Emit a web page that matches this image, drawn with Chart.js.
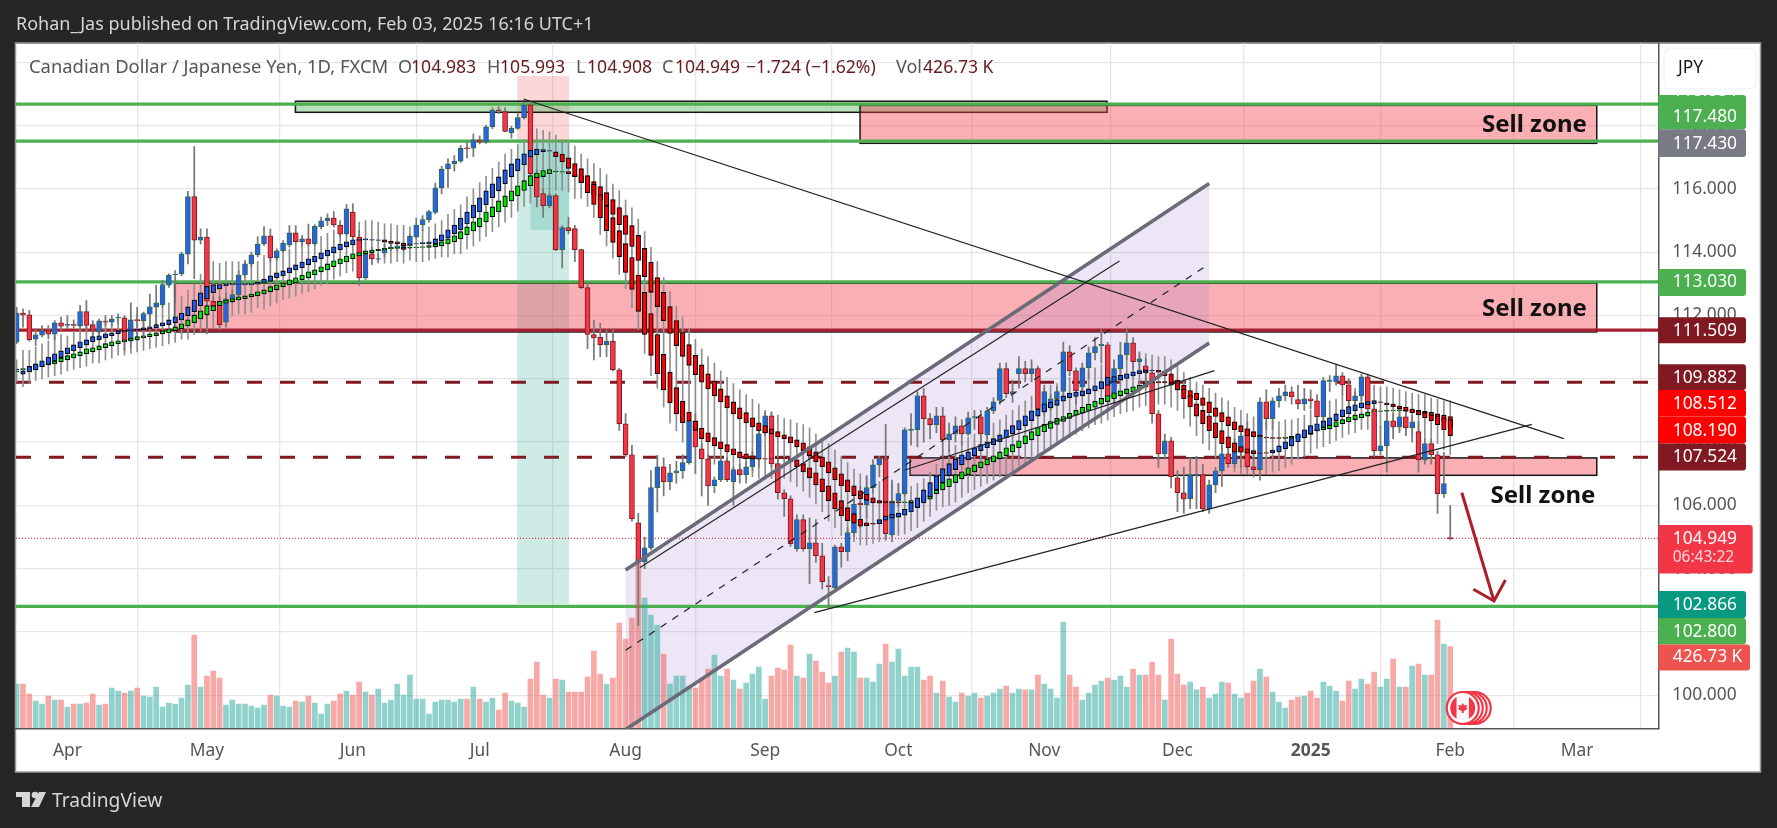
<!DOCTYPE html>
<html><head><meta charset="utf-8"><title>CAD/JPY</title>
<style>html,body{margin:0;padding:0;background:#262626;overflow:hidden}canvas{display:block}</style>
<script src="https://cdn.jsdelivr.net/npm/chart.js@4/dist/chart.umd.min.js"></script>
</head><body><canvas id="c" width="1777" height="828"></canvas>
<script>
// bars are numbered from 1 Apr 2024 = 0 (trading days); first visible bar is -8
const firstBar = -8;
const monthTicks = [0,22,45,65,88,110,131,154,175,196,218,238];
const monthLabels = ['Apr','May','Jun','Jul','Aug','Sep','Oct','Nov','Dec','2025','Feb','Mar'];
const priceTicks = [100,102,104,106,108,110,112,114,116,118,120];

const mainOpen = [
111.16,112.08,112.02,111.25,111.38,111.52,111.41,111.77,111.69,111.72,
111.66,112.12,111.71,111.47,111.82,111.79,111.92,111.93,111.19,111.87,
111.84,112.04,112.26,112.34,112.96,113.29,113.32,113.94,115.76,114.38,
114.48,112.45,112.45,111.79,112.53,112.65,113.28,113.63,113.92,114.26,
114.52,113.82,114.04,114.23,114.61,114.33,114.42,114.26,114.81,115.0,
115.08,114.86,114.58,115.27,114.48,113.19,113.95,113.78,113.98,114.11,
114.16,114.1,114.2,114.48,114.86,115.02,115.26,116.03,116.63,116.79,
116.88,117.3,117.29,117.55,117.48,117.96,118.5,118.44,117.78,117.91,
118.25,118.66,116.48,115.85,115.46,115.79,114.08,114.78,114.75,114.08,
112.88,111.4,111.31,111.08,111.19,110.28,108.58,107.6,105.45,104.22,
104.66,106.56,107.22,106.75,107.03,107.09,107.35,108.67,107.79,107.47,
106.62,106.81,107.41,106.75,107.13,106.97,107.22,107.47,108.29,108.83,
107.32,106.4,106.21,104.63,105.55,104.63,104.82,104.41,103.47,103.4,
104.69,104.54,105.14,106.07,106.02,106.56,107.28,107.47,105.07,106.14,
106.37,108.37,108.39,109.46,108.74,108.55,108.83,108.07,108.26,108.51,
108.26,108.78,108.8,108.23,108.99,109.32,110.32,109.53,110.16,110.32,
110.16,110.32,108.95,109.08,109.37,109.6,110.85,110.25,109.74,110.35,
110.82,111.05,111.07,109.4,110.32,110.76,111.14,110.54,110.41,110.19,
108.89,107.63,108.04,106.87,106.4,106.21,106.95,106.97,105.89,106.65,
107.09,107.63,107.32,107.68,108.42,107.22,107.13,109.27,108.74,109.3,
109.46,109.59,109.34,109.21,109.37,109.3,108.8,109.92,109.9,110.09,
109.81,109.31,109.46,110.06,109.05,107.73,107.88,108.67,108.48,108.8,
108.45,108.33,107.44,107.95,107.6,106.37,104.983];
const mainClose = [
112.08,112.01,111.24,111.39,111.52,111.41,111.77,111.66,111.72,111.69,
112.12,111.69,111.53,111.83,111.79,111.89,111.94,111.17,111.86,111.84,
112.06,112.27,112.40,112.98,113.28,113.31,113.95,115.76,114.38,114.48,
112.45,112.28,111.71,112.53,112.66,113.28,113.63,113.92,114.26,114.52,
113.82,114.04,114.29,114.61,114.33,114.42,114.26,114.82,114.99,115.08,
114.86,114.57,115.37,114.48,113.19,113.93,113.79,113.8,114.11,114.17,
114.19,114.21,114.51,114.86,115.03,115.28,116.03,116.63,116.79,116.88,
117.29,117.27,117.55,117.48,117.96,118.49,118.47,117.82,117.91,118.25,
118.66,116.48,115.75,115.46,115.79,114.08,114.78,114.68,114.08,112.88,
111.4,111.29,111.08,111.18,110.29,108.58,107.6,105.58,104.22,104.66,
106.56,107.22,106.75,107.03,107.09,107.35,108.66,107.85,107.47,106.62,
106.81,107.41,106.81,107.13,106.97,107.22,107.47,108.26,108.83,107.32,
106.4,106.21,104.79,105.55,104.63,104.82,104.41,103.59,103.43,104.69,
104.54,105.14,106.04,106.02,106.56,107.28,107.47,105.11,106.14,106.37,
108.39,108.41,109.46,108.74,108.55,108.83,108.07,108.26,108.51,108.26,
108.77,108.81,108.26,108.99,109.27,110.32,109.53,109.6,110.32,110.16,
110.32,109.05,109.6,109.37,109.6,110.85,110.25,109.62,110.35,110.82,
111.02,111.09,109.43,110.32,110.76,111.14,110.54,110.63,110.19,108.89,
107.63,108.04,106.91,106.4,106.2,106.97,106.99,105.89,106.65,107.09,
107.63,107.32,107.95,108.2,107.22,107.13,109.27,108.74,109.3,109.46,
109.59,109.43,109.21,109.37,109.3,108.8,109.94,109.96,110.09,109.81,
109.31,109.46,110.06,109.05,107.73,107.88,108.67,108.48,108.8,108.45,
108.64,107.44,107.95,107.6,106.37,106.69,104.949];
const mainHigh = [
112.26,112.21,112.16,111.58,111.68,111.68,111.84,111.95,112.00,111.86,
112.32,112.47,111.84,111.89,112.00,112.00,112.05,111.97,112.40,112.26,
112.11,112.68,112.95,113.11,113.32,113.42,114.00,115.92,117.34,114.74,
114.74,112.6,112.6,112.7,112.8,113.4,113.74,114.0,114.49,114.81,
114.73,114.11,114.37,114.84,114.84,114.53,114.89,114.87,115.11,115.21,
115.28,115.0,115.51,115.53,114.68,114.0,114.16,113.95,114.26,114.26,
114.3,114.3,114.58,115.08,115.16,115.32,116.18,116.71,116.95,117.05,
117.37,117.47,117.74,117.68,118.02,118.56,118.6,118.57,117.98,118.4,
118.73,118.78,116.6,116.0,115.85,115.85,114.84,115.1,114.85,114.1,
113.05,111.85,111.75,111.55,111.6,110.33,108.9,107.9,105.75,105.0,
107.1,107.58,107.5,107.3,107.4,107.6,108.76,108.9,107.95,107.6,
106.9,107.5,107.5,107.2,107.3,107.4,107.7,108.4,108.95,108.95,
107.45,106.5,106.3,105.7,105.7,105.6,105.55,104.8,103.75,104.75,
104.8,105.3,106.26,106.6,106.9,107.45,107.55,108.56,106.8,106.7,
108.45,108.9,109.6,109.7,108.9,109.1,109.1,108.6,108.8,108.7,
108.95,109.0,109.0,109.1,109.4,110.5,110.5,109.95,110.7,110.55,
110.6,110.4,109.8,109.5,109.75,111.16,111.05,110.35,110.5,111.0,
111.3,111.55,111.15,110.6,111.15,111.6,111.3,110.85,110.65,110.3,
109.0,108.25,108.15,107.1,107.2,107.5,107.55,107.3,106.8,107.2,
107.9,108.0,108.1,108.3,108.65,107.6,109.4,109.65,109.4,109.7,
109.8,109.75,109.8,109.7,109.65,109.5,110.05,110.1,110.45,110.2,
110.0,109.6,110.15,110.15,109.15,108.5,109.0,108.9,109.1,109.0,
108.85,108.65,108.1,108.1,107.7,107.68,105.993];
const mainLow = [
111.11,111.63,111.19,111.05,111.32,111.26,111.23,111.53,111.58,111.61,
111.53,111.53,111.32,111.32,111.68,111.68,111.74,110.89,111.00,111.26,
111.32,111.53,111.63,112.26,112.89,112.32,113.26,113.63,113.16,114.26,
111.42,112.16,111.55,111.63,112.4,112.55,113.2,113.55,113.85,114.21,
113.68,113.74,114.0,114.16,114.26,114.21,114.21,114.21,114.74,114.84,
114.79,114.47,114.53,114.37,112.95,113.14,113.63,113.7,113.84,114.05,
114.05,114.05,114.16,114.42,114.68,114.95,115.21,115.84,116.05,116.56,
116.84,116.98,117.02,117.42,117.44,117.9,118.38,117.8,117.6,117.88,
118.2,116.4,115.43,115.1,115.4,114.05,113.5,114.58,113.7,112.85,
110.95,110.6,110.7,110.7,110.25,108.37,107.55,105.5,102.2,104.0,
104.6,105.79,106.3,106.5,106.7,106.85,107.3,107.0,106.3,106.0,
106.4,106.75,106.75,106.0,106.7,106.7,107.1,107.2,108.2,107.2,
106.2,105.65,104.7,104.55,104.55,103.53,104.2,103.35,102.75,103.35,
104.05,104.25,105.0,105.3,105.6,106.4,106.9,104.9,104.85,105.95,
106.3,107.9,107.85,108.0,108.1,108.3,107.5,107.7,108.0,107.9,
108.2,108.4,107.9,108.1,108.9,109.2,109.4,109.25,109.7,109.9,
109.9,108.9,108.85,109.0,109.2,109.5,110.1,109.2,109.5,110.0,
110.6,110.5,109.2,109.2,110.1,110.6,110.3,110.2,109.7,108.6,
107.2,107.5,106.55,105.8,105.75,105.9,105.9,105.8,105.75,106.4,
106.6,107.2,107.2,107.2,107.15,106.9,106.8,108.4,108.4,109.1,
109.3,109.2,109.05,109.0,109.05,108.6,108.7,109.6,109.8,109.5,
109.0,109.1,109.3,108.9,107.55,107.6,107.05,108.1,108.3,108.2,
108.0,107.05,107.3,107.3,105.75,106.25,104.908];

// faster averaged candle row (blue when rising)
const fastOpen = [
110.28,110.15,110.22,110.28,110.38,110.45,110.56,110.67,110.79,110.88,
110.98,111.07,111.17,111.23,111.29,111.36,111.42,111.48,111.52,111.53,
111.55,111.58,111.61,111.67,111.71,111.77,111.86,111.99,112.12,112.31,
112.53,112.72,112.84,112.94,112.97,112.98,112.97,112.97,112.99,113.02,
113.08,113.19,113.25,113.35,113.44,113.51,113.6,113.69,113.79,113.88,
113.98,114.07,114.17,114.23,114.37,114.39,114.38,114.37,114.39,114.35,
114.33,114.29,114.26,114.26,114.27,114.26,114.26,114.36,114.45,114.58,
114.71,114.89,115.08,115.27,115.49,115.72,115.94,116.16,116.38,116.57,
116.76,117.01,117.08,117.18,117.19,117.17,117.1,116.98,116.8,116.64,
116.42,116.15,115.82,115.47,115.09,114.68,114.27,113.83,113.28,112.73,
112.06,111.4,110.77,110.21,109.72,109.29,108.95,108.66,108.44,108.29,
108.14,108.01,107.92,107.79,107.69,107.63,107.57,107.49,107.48,107.48,
107.5,107.5,107.47,107.44,107.32,107.19,107.03,106.84,106.62,106.4,
106.15,105.93,105.74,105.56,105.45,105.43,105.42,105.53,105.6,105.63,
105.69,105.79,105.93,106.08,106.27,106.49,106.72,106.94,107.13,107.28,
107.44,107.57,107.73,107.82,107.92,108.01,108.14,108.26,108.39,108.52,
108.68,108.82,108.95,109.08,109.16,109.29,109.4,109.44,109.46,109.53,
109.62,109.68,109.79,109.89,109.96,110.01,110.09,110.16,110.2,110.25,
110.27,110.24,110.16,109.95,109.68,109.47,109.21,109.0,108.83,108.61,
108.36,108.17,107.98,107.86,107.79,107.73,107.66,107.67,107.66,107.69,
107.79,107.88,108.01,108.14,108.26,108.35,108.46,108.52,108.67,108.8,
108.89,108.99,109.08,109.18,109.21,109.27,109.23,109.2,109.14,109.11,
109.04,108.99,108.93,108.86,108.83,108.77,108.71];
const fastClose = [
110.31,110.25,110.39,110.47,110.57,110.69,110.79,110.88,110.98,111.07,
111.17,111.23,111.33,111.36,111.42,111.45,111.52,111.53,111.55,111.56,
111.61,111.64,111.71,111.77,111.86,111.96,112.08,112.27,112.49,112.72,
112.92,112.98,112.98,113.0,113.0,113.0,113.0,113.0,113.05,113.15,
113.25,113.35,113.41,113.51,113.6,113.69,113.79,113.87,113.98,114.07,
114.17,114.26,114.33,114.39,114.41,114.42,114.4,114.39,114.32,114.28,
114.26,114.21,114.24,114.27,114.3,114.33,114.42,114.55,114.71,114.86,
115.08,115.27,115.49,115.72,115.94,116.16,116.38,116.6,116.79,116.95,
117.11,117.22,117.26,117.24,117.21,117.02,116.86,116.65,116.39,116.2,
115.88,115.51,115.09,114.68,114.31,113.86,113.36,112.82,112.13,111.4,
110.74,110.16,109.65,109.24,108.89,108.61,108.66,108.37,108.11,108.01,
107.88,107.79,107.69,107.6,107.5,107.47,107.47,107.46,107.46,107.47,
107.47,107.47,107.37,107.22,107.06,106.87,106.65,106.43,106.15,105.89,
105.67,105.52,105.44,105.34,105.36,105.41,105.55,105.66,105.72,105.76,
105.88,106.09,106.24,106.49,106.72,106.94,107.16,107.32,107.47,107.6,
107.69,107.82,107.92,108.01,108.11,108.23,108.39,108.52,108.68,108.83,
108.99,109.04,109.21,109.26,109.34,109.46,109.55,109.58,109.62,109.68,
109.78,109.91,110.05,110.07,110.11,110.16,110.22,110.26,110.28,110.27,
110.21,110.09,109.86,109.65,109.37,109.11,108.82,108.58,108.36,108.14,
107.95,107.82,107.68,107.68,107.65,107.63,107.64,107.65,107.75,107.88,
108.01,108.14,108.26,108.39,108.52,108.58,108.67,108.77,108.89,109.02,
109.12,109.18,109.24,109.28,109.31,109.25,109.18,109.11,109.06,108.98,
108.93,108.86,108.77,108.67,108.55,108.39,108.2];
// slower averaged candle row (green when rising)
const slowOpen = [
110.22,110.29,110.31,110.33,110.39,110.44,110.47,110.54,110.6,110.66,
110.73,110.79,110.85,110.92,110.98,111.04,111.11,111.17,111.21,111.23,
111.29,111.33,111.36,111.42,111.45,111.52,111.58,111.67,111.77,111.89,
112.02,112.15,112.31,112.39,112.43,112.49,112.53,112.59,112.62,112.68,
112.75,112.81,112.91,112.97,113.03,113.13,113.19,113.28,113.38,113.44,
113.54,113.63,113.69,113.79,113.88,113.95,113.98,114.05,114.07,114.11,
114.12,114.16,114.13,114.14,114.15,114.15,114.17,114.2,114.26,114.33,
114.42,114.55,114.67,114.8,114.96,115.12,115.27,115.43,115.62,115.78,
115.95,116.1,116.35,116.39,116.48,116.54,116.53,116.55,116.46,116.42,
116.33,116.23,116.07,115.88,115.66,115.41,115.16,114.84,114.53,114.12,
113.68,113.2,112.73,112.28,111.84,111.46,111.08,110.74,110.44,110.16,
109.93,109.68,109.46,109.27,109.08,108.93,108.77,108.61,108.52,108.42,
108.33,108.23,108.17,108.07,107.98,107.85,107.69,107.53,107.38,107.19,
107.0,106.81,106.62,106.46,106.35,106.24,106.15,106.12,106.11,106.11,
106.08,106.08,106.12,106.15,106.2,106.37,106.49,106.59,106.72,106.84,
106.97,107.06,107.19,107.28,107.38,107.47,107.57,107.69,107.82,107.95,
108.07,108.2,108.33,108.43,108.56,108.65,108.75,108.85,108.91,109.0,
109.1,109.2,109.28,109.37,109.46,109.53,109.59,109.68,109.75,109.87,
109.91,109.91,109.86,109.82,109.79,109.63,109.55,109.4,109.27,109.08,
108.93,108.8,108.64,108.52,108.42,108.33,108.21,108.15,108.14,108.14,
108.12,108.12,108.14,108.18,108.24,108.35,108.39,108.42,108.49,108.58,
108.64,108.71,108.77,108.82,108.97,108.97,108.98,108.99,108.99,109.02,
109.01,109.0,108.97,108.94,108.89,108.85,108.81];
const slowClose = [
110.24,110.32,110.35,110.39,110.45,110.52,110.56,110.66,110.73,110.79,
110.85,110.95,110.98,111.04,111.11,111.17,111.2,111.23,111.29,111.33,
111.36,111.42,111.45,111.52,111.58,111.64,111.74,111.86,112.02,112.15,
112.31,112.31,112.45,112.49,112.53,112.59,112.62,112.68,112.75,112.81,
112.91,112.97,113.03,113.13,113.19,113.28,113.38,113.44,113.54,113.63,
113.73,113.79,113.88,113.95,113.99,114.04,114.07,114.09,114.12,114.14,
114.15,114.09,114.15,114.16,114.17,114.21,114.26,114.33,114.42,114.52,
114.65,114.8,114.96,115.08,115.27,115.43,115.62,115.78,115.94,116.1,
116.26,116.42,116.5,116.58,116.61,116.56,116.55,116.48,116.39,116.2,
116.0,115.8,115.64,115.47,115.19,114.87,114.56,114.18,113.74,113.23,
112.73,112.28,111.84,111.43,111.05,110.71,110.42,110.13,109.89,109.68,
109.46,109.27,109.08,108.89,108.74,108.61,108.48,108.36,108.29,108.26,
108.16,108.11,107.98,107.85,107.73,107.57,107.38,107.22,107.03,106.81,
106.62,106.43,106.31,106.21,106.16,106.08,106.07,106.08,106.08,106.08,
106.11,106.15,106.21,106.28,106.33,106.49,106.72,106.84,106.97,107.06,
107.19,107.28,107.38,107.47,107.57,107.69,107.82,107.92,108.04,108.2,
108.33,108.46,108.56,108.65,108.75,108.81,108.91,109.0,109.1,109.2,
109.29,109.38,109.47,109.56,109.62,109.68,109.75,109.8,109.86,109.91,
109.88,109.87,109.8,109.65,109.61,109.4,109.34,109.16,108.93,108.81,
108.64,108.52,108.39,108.33,108.2,108.17,108.16,108.13,108.12,108.12,
108.16,108.18,108.21,108.26,108.32,108.42,108.48,108.55,108.64,108.71,
108.79,108.86,108.89,108.95,108.99,108.99,109.0,109.01,109.02,108.98,
108.96,108.94,108.89,108.84,108.77,108.68,108.47];
// grey wicks of the averaged rows
const avgHigh = [
110.6,110.9,110.9,111.0,111.1,111.2,111.4,111.4,
111.35,111.5,111.6,111.75,111.7,111.8,111.85,111.9,111.95,112,
112.1,112.05,112.1,112.2,112.25,112.3,112.4,112.4,112.6,112.8,
113,113.3,113.5,113.7,113.65,113.7,113.7,113.7,113.7,113.75,
113.7,113.9,113.95,113.9,114.1,114.1,114.25,114.3,114.35,114.4,
114.5,114.6,114.7,114.8,114.8,114.9,114.95,115,115,114.95,
114.9,114.9,114.85,114.85,114.8,114.75,114.7,114.8,114.9,115,
115.2,115.35,115.5,115.75,116,116.2,116.4,116.65,116.85,117.1,
117.25,117.4,117.55,117.7,117.9,117.85,117.8,117.7,117.55,117.5,
117.35,117.1,116.95,116.8,116.65,116.45,116.15,115.95,115.65,115.4,
115.05,114.65,114.15,113.7,113.2,112.75,112.3,111.95,111.6,111.25,
110.95,110.7,110.5,110.25,110.05,109.85,109.65,109.5,109.35,109.2,
109,108.95,108.85,108.75,108.7,108.6,108.55,108.45,108.25,108.1,
107.95,107.75,107.55,107.35,107.15,107,106.95,106.85,106.75,106.7,
106.7,106.65,106.7,106.6,106.7,106.85,107.05,107.3,107.55,107.75,
107.9,108,108.15,108.25,108.4,108.5,108.6,108.7,108.85,109,
109.15,109.3,109.45,109.55,109.7,109.8,109.85,110,110.05,110.1,
110.15,110.2,110.35,110.45,110.55,110.55,110.65,110.7,110.75,110.75,
110.8,110.75,110.7,110.7,110.6,110.4,110.2,110.05,109.9,109.8,
109.7,109.55,109.4,109.3,109.1,109,108.9,108.8,108.7,108.65,
108.65,108.65,108.7,108.7,108.75,108.85,109,109.05,109.15,109.3,
109.35,109.5,109.6,109.7,109.7,109.8,109.8,109.75,109.75,109.7,
109.65,109.6,109.55,109.5,109.5,109.4,109.35,109.3,109.3];
const avgLow = [
109.9,109.75,109.85,109.95,110,110.05,110.1,110.15,
110.25,110.3,110.35,110.4,110.5,110.5,110.6,110.65,110.75,110.75,
110.8,110.85,110.9,110.95,111,111.05,111.1,111.15,111.25,111.25,
111.4,111.5,111.55,111.6,111.85,111.95,112,112.05,112.05,112.1,
112.25,112.2,112.3,112.4,112.5,112.55,112.6,112.7,112.75,112.85,
112.95,113,113.15,113.25,113.35,113.4,113.5,113.55,113.6,113.65,
113.65,113.65,113.7,113.65,113.75,113.7,113.7,113.75,113.8,113.85,
113.85,113.95,113.95,114.1,114.2,114.35,114.5,114.65,114.8,114.95,
115.1,115.3,115.45,115.55,115.45,115.4,115.8,115.95,115.95,115.9,
115.7,115.7,115.45,115.1,114.55,114.2,113.8,113.3,112.85,112.25,
111.55,110.8,110.1,109.7,109.1,108.6,108.35,108,108.05,107.8,
107.6,107.45,107.3,107.2,107.1,107,106.95,106.9,106.9,106.85,
106.85,106.85,106.85,106.85,106.75,106.6,106.45,106.25,106.05,105.8,
105.5,105.3,105.05,104.9,104.85,104.75,104.75,104.8,104.85,104.95,
105,105.05,105.1,105.2,105.3,105.5,105.65,105.85,105.95,106,
106.1,106.25,106.4,106.5,106.6,106.7,106.8,106.9,107,107.1,
107.25,107.35,107.5,107.6,107.75,107.85,108,108.05,108.15,108.25,
108.35,108.45,108.55,108.6,108.7,108.8,108.9,108.95,109,109.1,
109.15,109.2,109.2,109.2,109.1,109,108.75,108.5,108.2,107.95,
107.75,107.5,107.35,107.2,107.05,107,107,107,107,107,
107.05,107.1,107.2,107.3,107.45,107.55,107.65,107.8,107.85,107.95,
108.05,108.15,108.25,108.3,108.4,108.4,108.4,108.45,108.4,108.4,
108.35,108.3,108.25,108.2,108.1,108,107.95,107.75,107.6];
// volume, thousands
const volumeK = [
230,230,177,140,125,167,146,146,109,125,
125,130,177,119,125,209,193,183,193,209,
167,162,214,109,130,125,156,225,488,214,
272,299,262,119,146,125,125,114,104,119,
172,167,114,109,140,135,167,130,72,125,
140,177,193,172,241,188,172,204,130,146,
230,172,277,151,151,72,135,146,146,135,
151,151,214,151,135,156,93,183,140,130,
109,256,346,172,156,256,251,188,188,188,
267,404,283,230,262,551,467,578,888,683,
594,541,388,230,272,272,220,209,262,309,
383,272,309,251,204,235,283,320,151,272,
314,304,436,272,262,388,351,293,235,272,
399,420,399,262,262,241,335,441,346,414,
272,320,320,251,272,183,246,162,135,183,
167,183,156,167,183,204,220,183,204,199,
199,277,230,204,156,557,277,214,146,183,
225,246,262,251,272,214,309,277,277,346,
277,146,467,283,225,241,199,214,156,177,
241,235,177,156,183,246,309,267,188,135,
104,146,162,167,193,156,241,220,193,140,
246,204,256,230,293,214,256,362,214,214,
325,335,277,277,567,441,427];

// horizontal levels, prices
const greenLevels = [118.68,117.51,113.06,102.81];
const supplyLevel = 111.54;
const dashedLevels = [109.89,107.52];
const lastClose = 104.96;
const xMin = -8.1, xMax = 250.8;

// drawings: [bar, price] pairs
const channelTop = [[88,103.96],[180,116.17]];
const channelMid = [[88,101.42],[180,113.63]];
const channelBottom = [[88,98.92],[180,111.13]];
const innerLine = [[90.27,104.04],[165.85,113.72]];
const downTrend = [[71.9,118.84],[235.9,108.11]];
const riseSupport = [[117.75,102.61],[230.87,108.56]];
const riseShort = [[132.05,107.12],[180.83,110.26]];
const arrowShaft = [[219.83,106.4],[224.9,102.98]];
const arrowHead = [[221.65,103.35],[224.9,102.98],[226.7,103.64]];

// rectangles: bar from, bar to, price top, price bottom
const zoneBoxes = [
 [35.95,163.9,118.77,118.42,'rgba(76,175,80,.4)'],
 [124.96,241.1,118.64,117.44,'rgba(242,54,69,.4)'],
 [16.9,241.1,113.02,111.48,'rgba(242,54,69,.4)'],
 [132.84,241.1,107.5,106.95,'rgba(242,54,69,.4)']];
const riskBox = [70.9,79.1,119.57,117.45];
const rewardBox = [70.9,79.1,117.45,102.88];
const tradeBox = [73,79.1,117.45,114.7];

const bars = mainOpen.map((_, k) => firstBar + k);
const pts = a => a.map(p => ({x:p[0], y:p[1]}));
const span = v => [{x:xMin,y:v},{x:xMax,y:v}];
const UP='#2a62e6', DN='#f23645', UPB='#2a6d47', DNB='#7d1a22';
const FONT='"Noto Sans", sans-serif';
const candle = (o,c,color,border,w,bw,order)=>({type:'bar',grouped:false,order,barThickness:w,borderWidth:bw,borderSkipped:false,
  data:bars.map((x,k)=>({x,y:[o[k],c[k]]})),
  backgroundColor:bars.map((_,k)=>color(k)),borderColor:bars.map((_,k)=>border(k))});
const line=(data,color,width,order,dash)=>({type:'line',data,borderColor:color,borderWidth:width,order,pointRadius:0,fill:false,tension:0,borderDash:dash||[],borderCapStyle:'butt',yAxisID:'y',xAxisID:'x'});

const datasets=[
 ...greenLevels.map(v=>line(span(v),'#4caf50',3.2,60)),
 line(span(supplyLevel),'#a8202f',3.2,60),
 ...dashedLevels.map(v=>line(span(v),'#801922',3,60,[15,18])),
 line(span(lastClose),'#f23645',1.2,60,[1,2]),
 {type:'bar',grouped:false,order:50,yAxisID:'vol',barThickness:5,
  data:bars.map((x,k)=>({x,y:volumeK[k]})),
  backgroundColor:bars.map((_,k)=>mainClose[k]>=mainOpen[k]?'rgba(38,166,154,.5)':'rgba(239,83,80,.5)')},
 {type:'bar',grouped:false,order:40,barThickness:1,backgroundColor:'#8f8f8f',data:bars.map((x,k)=>({x,y:[avgLow[k],avgHigh[k]]}))},
 {type:'bar',grouped:false,order:30,barThickness:1.1,backgroundColor:'#7a7a7a',data:bars.map((x,k)=>({x,y:[mainLow[k],mainHigh[k]]}))},
 candle(mainOpen,mainClose,k=>mainClose[k]>=mainOpen[k]?UP:DN,k=>mainClose[k]>=mainOpen[k]?UPB:DNB,5,1,20),
 candle(slowOpen,slowClose,k=>slowClose[k]>=slowOpen[k]?'#00e600':'#ff0000',()=>'#000',4.6,1.1,11),
 candle(fastOpen,fastClose,k=>fastClose[k]>=fastOpen[k]?'#1f5df0':'#ff0000',()=>'#000',4.6,1.1,10),
 line(pts(channelTop),'#6a6a78',3.6,2),
 line(pts(channelBottom),'#6a6a78',3.6,2),
 line(pts(channelMid),'#222',1.2,2,[7,7]),
 line(pts(innerLine),'#222',1.2,1),
 line(pts(downTrend),'#222',1.2,1),
 line(pts(riseSupport),'#222',1.2,1),
 line(pts(riseShort),'#222',1.2,1),
 line(pts(arrowShaft),'#ab1f26',3,1),
 line(pts(arrowHead),'#ab1f26',3,1),
];

const badges=[
 ['117.480',95,129.3,117,'#4caf50',1746],
 ['117.430',129.3,157,144,'#787b86',1746],
 ['113.030',269,296,282,'#4caf50',1746],
 ['111.509',317.3,343.3,331,'#801922',1746],
 ['109.882',364.3,390,378,'#801922',1746],
 ['108.512',390,416.6,404,'#ff0000',1746],
 ['108.190',416.6,443.5,431,'#ff0000',1746],
 ['107.524',443.5,470.5,457,'#801922',1746],
 ['102.866',591,618,605,'#089981',1746],
 ['102.800',618,644.5,632,'#4caf50',1746],
 ['426.73 K',644.5,670.5,657.5,'#ef5350',1750],
];
const deco={id:'deco',
 beforeDraw(ch){const c=ch.ctx;c.save();c.fillStyle='#262626';c.fillRect(0,0,1777,828);
   c.fillStyle='#fff';c.fillRect(16,43.5,1744,728.5);
   c.strokeStyle='#9a9a9a';c.lineWidth=1.5;c.strokeRect(15.5,43,1745,729);c.restore();},
 beforeDatasetsDraw(ch){const c=ch.ctx,X=ch.scales.x,Y=ch.scales.y,a=ch.chartArea;
   c.save();c.beginPath();c.rect(a.left,a.top,a.width,a.height);c.clip();
   const box=(b,fill,stroke)=>{const x0=X.getPixelForValue(b[0]),x1=X.getPixelForValue(b[1]),y0=Y.getPixelForValue(b[2]),y1=Y.getPixelForValue(b[3]);
     c.fillStyle=fill;c.fillRect(x0,y0,x1-x0,y1-y0);if(stroke){c.strokeStyle=stroke;c.lineWidth=1.5;c.strokeRect(x0,y0,x1-x0,y1-y0);}};
   box(riskBox,'rgba(242,54,69,.2)');box(rewardBox,'rgba(8,153,129,.2)');box(tradeBox,'rgba(8,153,129,.2)');
   zoneBoxes.forEach(b=>box(b,b[4],'#161616'));
   c.fillStyle='rgba(149,117,205,.18)';c.beginPath();
   c.moveTo(X.getPixelForValue(channelTop[0][0]),Y.getPixelForValue(channelTop[0][1]));
   c.lineTo(X.getPixelForValue(channelTop[1][0]),Y.getPixelForValue(channelTop[1][1]));
   c.lineTo(X.getPixelForValue(channelBottom[1][0]),Y.getPixelForValue(channelBottom[1][1]));
   c.lineTo(X.getPixelForValue(channelBottom[0][0]),Y.getPixelForValue(channelBottom[0][1]));
   c.closePath();c.fill();c.restore();},
 afterDraw(ch){const c=ch.ctx;c.save();
   // zone captions
   c.textBaseline='alphabetic';c.textAlign='left';c.fillStyle='#111';c.font='bold 24px '+FONT;
   c.fillText('Sell zone',1482,131.7);c.fillText('Sell zone',1482,315.7);c.fillText('Sell zone',1490.5,502.7);
   // flag events
   const ex=ch.scales.x.getPixelForValue(218)+12.5;
   [12,8,4].forEach(d=>{c.beginPath();c.arc(ex+d,708,16,0,7);c.fillStyle='#fff';c.fill();c.lineWidth=2.2;c.strokeStyle='#f23645';c.stroke();});
   c.beginPath();c.arc(ex,708,16,0,7);c.fillStyle='#fff';c.fill();c.lineWidth=2.2;c.stroke();
   c.save();c.beginPath();c.arc(ex,708,12.5,0,7);c.clip();c.fillStyle='#f23645';c.fillRect(ex-13,695,7,26);c.fillRect(ex+6,695,7,26);c.fillStyle='#f7f7fb';c.fillRect(ex-6,695,12,26);c.restore();
   c.fillStyle='#f23645';c.beginPath();[[0,-5],[1.4,-2.5],[4.5,-3],[3.5,0],[5,1],[1,3],[1,5],[-1,5],[-1,3],[-5,1],[-3.5,0],[-4.5,-3],[-1.4,-2.5]].forEach(p=>c.lineTo(ex+p[0],708+p[1]));c.closePath();c.fill();
   // price panel
   const ax=1658.3;
   c.font='17.4px '+FONT;c.textBaseline='middle';
   const rr=(x,y0,y1,x1,col)=>{c.fillStyle=col;c.beginPath();c.roundRect(x,y0,x1-x,y1-y0,[0,3,3,0]);c.fill();};
   badges.forEach(b=>{rr(ax,b[1],b[2],b[5],b[4]);});
   // level whose label is cut by the currency button
   c.save();c.beginPath();c.rect(ax,95,100,20);c.clip();c.fillStyle='#fff';c.fillText('118.684',1672.7,91);c.restore();
   c.fillStyle='#fff';badges.forEach(b=>c.fillText(b[0],1672.7,b[3]));
   rr(ax,525,573.6,1752.7,'#f23645');c.fillStyle='#fff';c.fillText('104.949',1672.7,539);
   c.font='15.5px '+FONT;c.fillStyle='#ffd9dc';c.fillText('06:43:22',1672.7,558);
   // currency button
   c.fillStyle='#fff';c.strokeStyle='#f0f3fa';c.lineWidth=1.5;c.beginPath();c.roundRect(1664,48,92,41,7);c.fill();c.stroke();
   c.fillStyle='#131722';c.font='17.4px '+FONT;c.fillText('JPY',1678,68.5);
   // header + footer
   c.fillStyle='#d6d6d6';c.font='18px '+FONT;c.fillText('Rohan_Jas published on TradingView.com, Feb 03, 2025 16:16 UTC+1',16,25);
   c.font='19.2px '+FONT;c.fillText('TradingView',52,801.5);
   c.fillStyle='#d6d6d6';c.fillRect(16,792,14,5);c.fillRect(22,792,8,15);c.beginPath();c.arc(35,795,3.3,0,7);c.fill();
   c.beginPath();c.moveTo(39,792);c.lineTo(46,792);c.lineTo(39,807);c.lineTo(31,807);c.closePath();c.fill();
   // legend line
   const grey='#555',val='#641a1f';
   [['Canadian Dollar / Japanese Yen, 1D, FXCM',29,grey,18.4],['O',398,grey,18],['104.983',411,val,17.6],['H',487,grey,18],['105.993',500,val,17.6],
    ['L',576,grey,18],['104.908',587,val,17.6],['C',662,grey,18],['104.949',675,val,17.6],['−1.724 (−1.62%)',746,val,17.6],['Vol',896,grey,18],['426.73 K',923,val,17.6]]
    .forEach(s=>{c.font=s[3]+'px '+FONT;c.fillStyle=s[2];c.fillText(s[0],s[1],67.5);});
   c.restore();}
};

new Chart(document.getElementById('c'),{data:{datasets},plugins:[deco],options:{
 responsive:false,animation:false,devicePixelRatio:1,events:[],
 layout:{padding:{left:16,right:17,top:43.5,bottom:56}},
 plugins:{legend:{display:false},tooltip:{enabled:false}},
 scales:{
  x:{type:'linear',position:'bottom',min:xMin,max:xMax,offset:false,
   afterBuildTicks(s){s.ticks=monthTicks.map(value=>({value}));},
   afterFit(s){s.height=43;},
   grid:{color:'#e6e6e6',lineWidth:1.3,drawTicks:false},
   border:{color:'#555',width:1.5},
   ticks:{autoSkip:false,maxRotation:0,padding:12,color:'#555',
    font:ctx=>({family:FONT,size:17.4,weight:monthLabels[monthTicks.indexOf(ctx.tick&&ctx.tick.value)]==='2025'?'bold':'normal'}),
    callback:v=>monthLabels[monthTicks.indexOf(v)]}},
  y:{type:'linear',position:'right',min:98.935,max:120.594,
   afterBuildTicks(s){s.ticks=priceTicks.map(value=>({value}));},
   afterFit(s){s.width=101.7;},
   grid:{color:'#e6e6e6',lineWidth:1.3,drawTicks:false},
   border:{color:'#555',width:1.5},
   ticks:{padding:14,color:'#555',font:{family:FONT,size:17.4},callback:v=>v.toFixed(3)}},
  vol:{type:'linear',display:false,min:-6.85,max:3606}
 }}});
</script></body></html>
